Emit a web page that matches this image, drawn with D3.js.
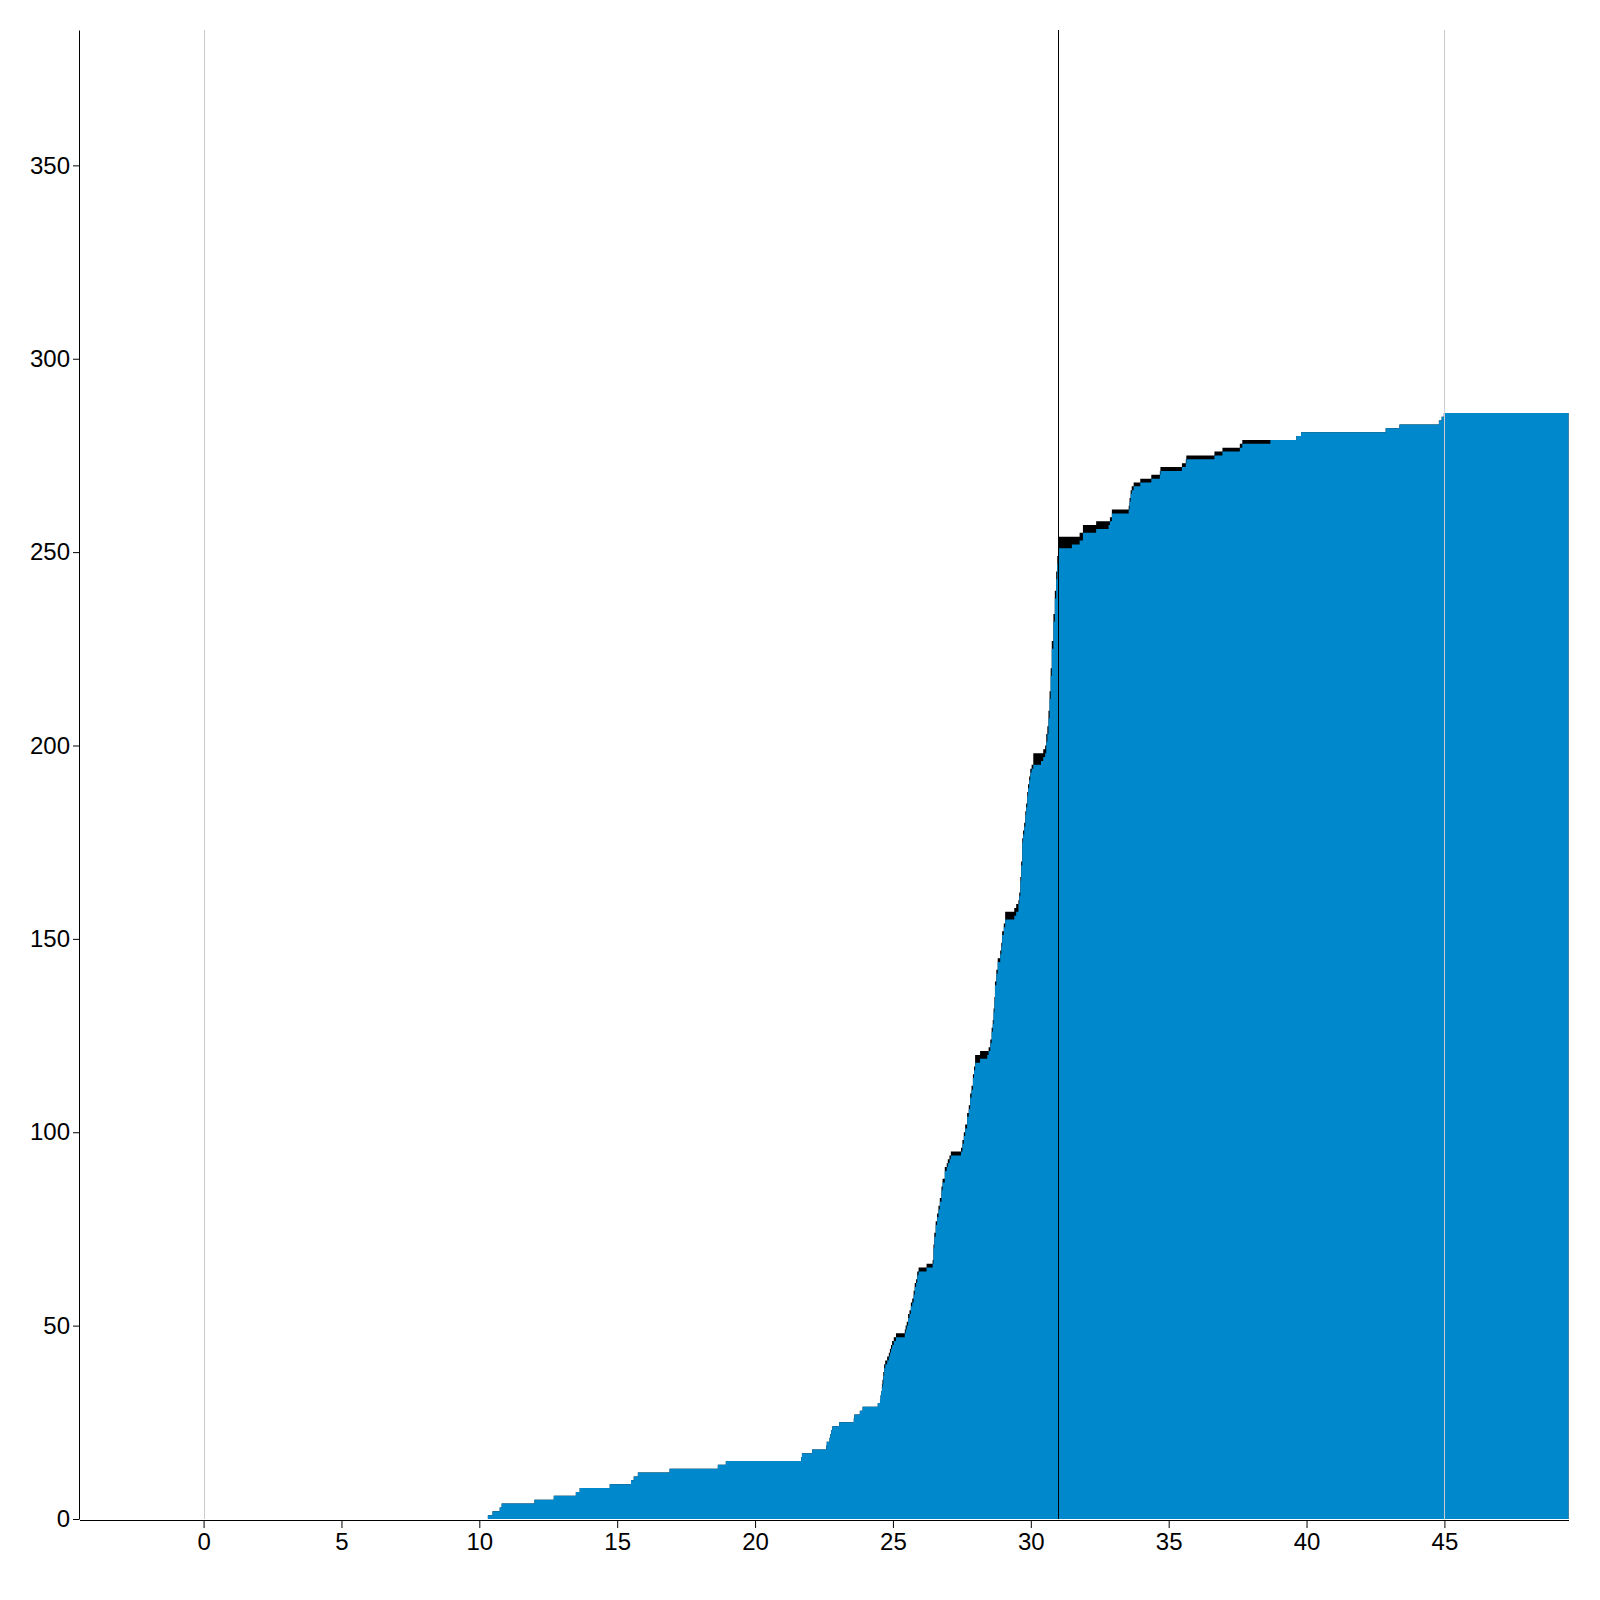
<!DOCTYPE html>
<html><head><meta charset="utf-8">
<script src="https://cdn.jsdelivr.net/npm/d3@7"></script>
<style>
body{margin:0;background:#fff}
text{font-family:"Liberation Sans",Arial,Helvetica,sans-serif}
</style>
</head><body>
<svg id="chart" width="1600" height="1600"></svg>
<script>
// Step points (day at which the cumulative count changes)
const stepDays = [
  10.31,10.48,10.74,10.81,12.0,12.7,13.5,13.64,14.73,15.5,
  15.6,15.75,16.9,18.65,18.94,21.67,21.7,22.07,22.58,22.6,
  22.7,22.73,22.76,22.8,23.05,23.58,23.6,23.8,23.9,24.45,
  24.53,24.55,24.57,24.6,24.62,24.65,24.68,24.72,24.79,24.85,
  24.89,24.93,24.97,25.03,25.11,25.43,25.46,25.5,25.55,25.6,
  25.65,25.7,25.75,25.79,25.84,25.88,25.93,26.22,26.44,26.47,
  26.5,26.55,26.6,26.65,26.7,26.76,26.8,26.88,26.95,26.99,
  27.05,27.1,27.47,27.52,27.57,27.62,27.69,27.75,27.8,27.85,
  27.9,27.94,27.98,28.16,28.42,28.47,28.53,28.58,28.62,28.65,
  28.68,28.7,28.75,28.8,28.89,28.93,28.96,29.02,29.07,29.4,
  29.47,29.55,29.58,29.62,29.65,29.69,29.72,29.76,29.8,29.83,
  29.87,29.9,29.94,29.98,30.03,30.09,30.37,30.45,30.52,30.56,
  30.6,30.64,30.68,30.72,30.76,30.82,30.87,30.92,30.96,30.99,
  31.0,31.49,31.77,31.89,32.37,32.82,32.87,32.94,33.55,33.58,
  33.62,33.66,33.73,33.97,34.37,34.68,34.7,35.48,35.62,35.64,
  36.66,36.95,37.58,37.67,38.69,39.63,39.8,42.87,43.37,44.8,
  44.9,44.98,49.5];
// Main (blue) cumulative series
const blueValues = [
  1,2,3,4,5,6,7,8,9,10,
  11,12,13,14,15,16,17,18,19,20,
  21,22,23,24,25,26,27,28,29,30,
  31,32,33,34,35,37,39,40,41,42,
  43,44,45,46,47,48,49,50,52,53,
  55,56,58,60,61,63,64,65,66,70,
  73,76,78,80,82,85,87,90,91,92,
  93,94,95,97,99,101,104,106,109,111,
  114,116,118,119,120,121,123,126,128,131,
  134,138,141,144,146,148,151,153,155,156,
  157,159,161,165,169,175,177,179,182,184,
  187,189,191,193,194,195,196,197,198,201,
  203,207,212,218,225,232,238,243,247,250,
  251,252,253,255,256,257,258,260,261,263,
  265,266,267,268,269,270,271,272,273,274,
  275,276,277,278,279,280,281,282,283,284,
  285,286,286];
// Additional (black) series stacked on top of the blue one
const extraValues = [
  0,0,0,0,0,0,0,0,0,0,
  0,0,0,0,0,0,0,0,0,0,
  0,0,0,0,0,0,0,0,0,0,
  0,0,0,1,1,1,1,1,1,1,
  1,1,1,1,1,1,1,1,1,1,
  1,1,1,1,1,1,1,1,1,1,
  1,1,1,1,1,1,1,1,1,1,
  1,1,1,1,1,1,1,1,1,1,
  1,1,2,2,1,1,1,1,1,1,
  1,1,1,1,1,1,1,1,2,2,
  2,1,1,1,1,1,1,1,1,1,
  1,1,1,1,1,3,2,2,2,2,
  2,2,2,2,2,2,2,2,2,2,
  3,2,2,2,2,1,1,1,1,1,
  1,1,1,1,1,1,1,1,1,1,
  1,1,1,1,0,0,0,0,0,0,
  0,0,0];
const xTicks = [0,5,10,15,20,25,30,35,40,45];
const yTicks = [0,50,100,150,200,250,300,350];
const xDomain = [-4.5, 49.5];
const yDomain = [0, 385];
const referenceDays = [0, 45];
const eventDay = 31;

const svg = d3.select("#chart");
const x = d3.scaleLinear().domain(xDomain).range([79.5, 1568.5]);
const y = d3.scaleLinear().domain(yDomain).range([1519, 30]);

const rows = stepDays.map((d, i) => ({day: d, blue: blueValues[i], extra: extraValues[i]}));
const stacked = d3.stack().keys(["blue", "extra"])(rows);

const vline = (day, color) => svg.append("line")
  .attr("x1", Math.round(x(day)) + 0.5).attr("x2", Math.round(x(day)) + 0.5)
  .attr("y1", y.range()[1]).attr("y2", y(0))
  .attr("stroke", color).attr("stroke-width", 1);

// light reference line at day 0 (behind)
vline(referenceDays[0], "#cccccc");

const area = d3.area()
  .x(d => x(d.data.day))
  .y0(d => y(d[0]))
  .y1(d => y(d[1]))
  .curve(d3.curveStepAfter);

const totalArea = d3.area()
  .x(d => x(d.data.day))
  .y0(y(0))
  .y1(d => y(d[1]))
  .curve(d3.curveStepAfter);

svg.append("path").datum(stacked[1]).attr("d", totalArea).attr("fill", "#000000");
svg.append("path").datum(stacked[0]).attr("d", area).attr("fill", "#0088cc");

// reference line at day 45 (over area) and event line at day 31
vline(referenceDays[1], "#cccccc");
vline(eventDay, "#000000");

// axes
const xAxis = d3.axisBottom(x).tickValues(xTicks).tickSize(8).tickPadding(5).tickSizeOuter(0);
const yAxis = d3.axisLeft(y).tickValues(yTicks).tickSize(6).tickPadding(3).tickSizeOuter(0);

const gx = svg.append("g").attr("transform", `translate(0,${y(0) + 1})`).call(xAxis);
const gy = svg.append("g").attr("transform", `translate(${x(xDomain[0]) - 0.5},0)`).call(yAxis);

[gx, gy].forEach(g => {
  g.selectAll("text").attr("font-size", 24).attr("fill", "#000")
    .attr("font-family", '"Liberation Sans",Arial,Helvetica,sans-serif');
  g.selectAll("path,line").attr("stroke", "#000");
});
</script>
</body></html>
